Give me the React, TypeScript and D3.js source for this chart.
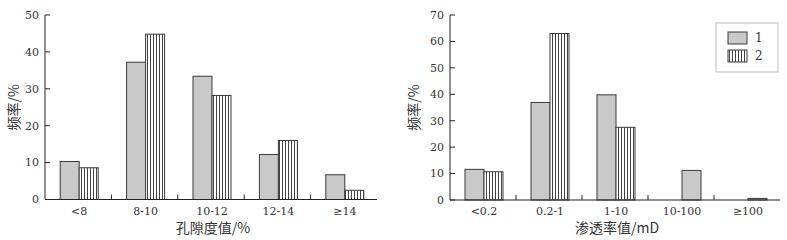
import React from 'react';
import * as d3 from 'd3';

const poroCats = ['<8', '8-10', '10-12', '12-14', '≥14'];
const poroS1 = [10.3, 37.2, 33.4, 12.2, 6.7];
const poroS2 = [8.6, 44.8, 28.2, 16.0, 2.5];
const poroTicks = [0, 10, 20, 30, 40, 50];

const permCats = ['<0.2', '0.2-1', '1-10', '10-100', '≥100'];
const permS1 = [11.6, 36.9, 39.8, 0, 0];
const permS2 = [10.7, 63.0, 27.5, 11.2, 0.6];
const permTicks = [0, 10, 20, 30, 40, 50, 60, 70];
// in the original the last two "2" bars are drawn plain grey
const permPlain = ['10-100', '≥100'];

const legendItems = ['1', '2'];

const GREY = '#c9c9c9';
const EDGE = '#3a3a3a';
const tickFont = '"DejaVu Serif", "Liberation Serif", serif';
const cjkFont = '"Noto Sans CJK SC", sans-serif';

type ChartProps = {
  x0: number; x1: number; y0: number; y1: number;
  cats: string[]; s1: number[]; s2: number[]; ticks: number[];
  yMax: number; xTitle: string; yTitleX: number; plain?: string[];
};

const Chart = ({ x0, x1, y0, y1, cats, s1, s2, ticks, yMax, xTitle, yTitleX, plain = [] }: ChartProps) => {
  const x = d3.scaleBand<string>().domain(cats).range([x0, x1]);
  const y = d3.scaleLinear().domain([0, yMax]).range([y1, y0]);
  const barW = 19;
  const inner = d3.scaleBand<string>().domain(legendItems).range([0, barW * 2]);
  const off = (x.bandwidth() - barW * 2) / 2 + 1;
  const bars = cats.flatMap((c, i) => [
    { c, k: '1', v: s1[i] },
    { c, k: '2', v: s2[i] },
  ]).filter(d => d.v > 0);

  return (
    <g>
      {bars.map(d => {
        const bx = (x(d.c) ?? 0) + off + (inner(d.k) ?? 0);
        const fill = d.k === '1' || plain.includes(d.c) ? GREY : 'url(#stripes)';
        return (
          <rect key={d.c + d.k} x={bx} y={y(d.v)} width={barW} height={y(0) - y(d.v)}
            fill={fill} stroke={EDGE} strokeWidth={1} />
        );
      })}
      <line x1={x0} x2={x0} y1={y0} y2={y1} stroke="#222" />
      <line x1={x0} x2={x1} y1={y1} y2={y1} stroke="#222" />
      {ticks.map(t => (
        <g key={t}>
          <line x1={x0} x2={x0 + 5} y1={y(t)} y2={y(t)} stroke="#222" />
          <text x={x0 - 6} y={y(t)} dy="0.35em" textAnchor="end" fontSize={11}
            fontFamily={tickFont} fill="#333">{t}</text>
        </g>
      ))}
      {cats.slice(1).map(c => (
        <line key={c} x1={x(c)} x2={x(c)} y1={y1} y2={y1 - 5} stroke="#222" />
      ))}
      {cats.map(c => (
        <text key={c} x={(x(c) ?? 0) + x.bandwidth() / 2 + 1} y={215} textAnchor="middle"
          fontSize={11} fontFamily={tickFont} fill="#333">{c}</text>
      ))}
      <text x={(x0 + x1) / 2 + 2} y={233} textAnchor="middle" fontSize={14}
        fontFamily={cjkFont} fill="#333">{xTitle}</text>
      <text transform={`translate(${yTitleX},${(y0 + y1) / 2}) rotate(-90)`} dy="0.35em"
        textAnchor="middle" fontSize={14} fontFamily={cjkFont} fill="#333">频率/%</text>
    </g>
  );
};

const App = () => {
  return (
    <svg width={787} height={240} style={{ position: 'absolute', left: 0, top: 0, background: '#fff' }}>
      <defs>
        <pattern id="stripes" width={3} height={4} patternUnits="userSpaceOnUse">
          <rect width={3} height={4} fill="#fff" />
          <rect x={0} width={1} height={4} fill="#444" />
        </pattern>
      </defs>
      <Chart x0={45} x1={377} y0={15} y1={199.5} cats={poroCats} s1={poroS1} s2={poroS2}
        ticks={poroTicks} yMax={50} xTitle="孔隙度值/%" yTitleX={14} />
      <Chart x0={450} x1={780} y0={15} y1={200} cats={permCats} s1={permS1} s2={permS2}
        ticks={permTicks} yMax={70} xTitle="渗透率值/mD" yTitleX={414} plain={permPlain} />
      <g>
        <rect x={716} y={23} width={62} height={49} fill="#fff" stroke="#bbb" />
        {legendItems.map((k, i) => (
          <g key={k}>
            <rect x={728} y={32 + i * 18} width={19} height={12}
              fill={i === 0 ? GREY : 'url(#stripes)'} stroke={EDGE} />
            <text x={755} y={38 + i * 18} dy="0.35em" fontSize={12} fontFamily={tickFont} fill="#333">{k}</text>
          </g>
        ))}
      </g>
    </svg>
  );
};

export default App;
